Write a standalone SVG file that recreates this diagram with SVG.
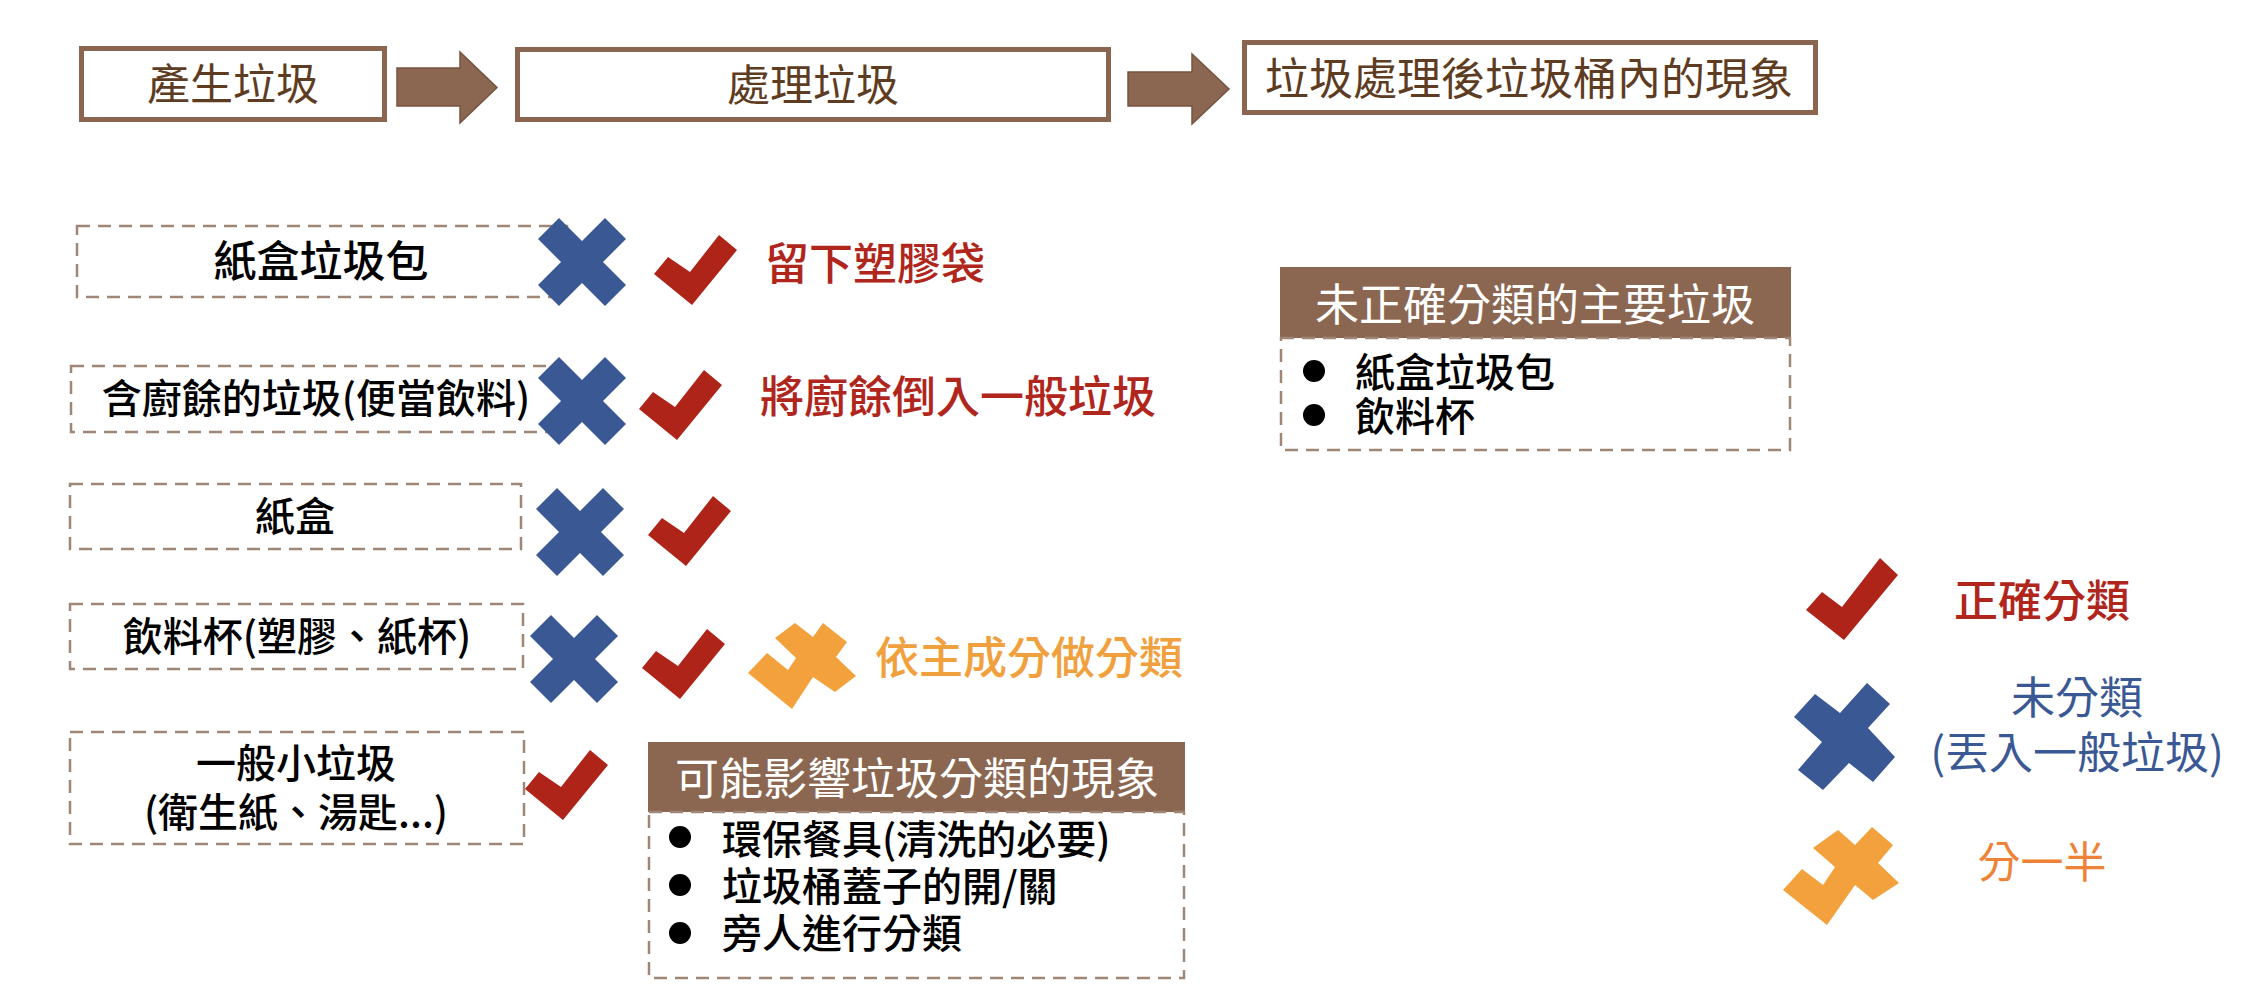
<svg xmlns="http://www.w3.org/2000/svg" width="2242" height="1008" viewBox="0 0 2242 1008">
<defs>
<style>
.t{font-family:"Noto Sans CJK TC","Noto Sans CJK SC",sans-serif}
.hdr{fill:#fff;stroke:#8A6650;stroke-width:5}
.arrow{fill:#8B6650;stroke:#765440;stroke-width:1.5}
.dash{fill:none;stroke:#A08676;stroke-width:2.5;stroke-dasharray:13 8}
.htxt{fill:#5E3C22;text-anchor:middle;font-size:43px}
.blk{fill:#000;font-weight:500}
.mid{text-anchor:middle}
.red{fill:#B0251C;font-weight:500}
.blue{fill:#3A5893}
.org{fill:#F0A03C;font-weight:500}
.org2{fill:#EE8236}
.xm{fill:#3A5894}
.ck{fill:#AF2419}
.half{fill:#F2A13C}
.band{fill:#8B6751}
.wt{fill:#fff;text-anchor:middle;font-size:44px}
</style>
<path id="xmark" d="M0,-21 L23,-44 L44,-23 L21,0 L44,23 L23,44 L0,21 L-23,44 L-44,23 L-21,0 L-44,-23 L-23,-44 Z"/>
<path id="check" d="M0,0 L-38,-31 L-24,-48 L-2,-33 L27,-70 L45,-55 Z"/>
</defs>
<rect width="2242" height="1008" fill="#fff"/>

<g id="connectors">
<polygon class="arrow" points="397,68 460,68 460,52 497,87.5 460,123 460,106 397,106"/>
<polygon class="arrow" points="1128,72 1192,72 1192,54 1229,89 1192,124 1192,106 1128,106"/>
</g>

<g id="step-produce">
<rect class="hdr" x="81.5" y="48.5" width="303" height="71"/>
<text class="t htxt" x="233" y="99.5">產生垃圾</text>
</g>
<g id="step-process">
<rect class="hdr" x="517.5" y="49.5" width="591" height="70"/>
<text class="t htxt" x="813" y="100.5">處理垃圾</text>
</g>
<g id="step-result">
<rect class="hdr" x="1244.5" y="42.5" width="571" height="70"/>
<text class="t htxt" x="1529" y="94.5" style="font-size:44px">垃圾處理後垃圾桶內的現象</text>
</g>

<g id="row1">
<rect class="dash" x="77" y="226" width="490" height="71"/>
<text class="t blk mid" x="321" y="277" style="font-size:43px">紙盒垃圾包</text>
<use href="#xmark" class="xm" x="582" y="262"/>
<use href="#check" class="ck" x="692" y="305"/>
<text class="t red" x="765" y="280" style="font-size:44px">留下塑膠袋</text>
</g>

<g id="row2">
<rect class="dash" x="71" y="366" width="494" height="66"/>
<text class="t blk" x="316" y="413" text-anchor="middle" style="font-size:40px">含廚餘的垃圾(便當飲料)</text>
<use href="#xmark" class="xm" x="582" y="401"/>
<use href="#check" class="ck" x="677" y="440"/>
<text class="t red" x="760" y="413" style="font-size:44px">將廚餘倒入一般垃圾</text>
</g>

<g id="row3">
<rect class="dash" x="70" y="484" width="451" height="65"/>
<text class="t blk mid" x="295" y="531" style="font-size:40px">紙盒</text>
<use href="#xmark" class="xm" x="580" y="532"/>
<use href="#check" class="ck" x="686" y="566"/>
</g>

<g id="row4">
<rect class="dash" x="70" y="604" width="453" height="65"/>
<text class="t blk mid" x="297" y="651" style="font-size:40px">飲料杯(塑膠、紙杯)</text>
<use href="#xmark" class="xm" x="574" y="659"/>
<use href="#check" class="ck" x="680" y="699"/>
<polygon class="half" points="792,709 813,677 835,692 856,676 836,657 847,642 823,623 813,637 795,623 775,638 796,658 788,670 767,653 748,673"/>
<text class="t org" x="875" y="674" style="font-size:44px">依主成分做分類</text>
</g>

<g id="row5">
<rect class="dash" x="70" y="732" width="454" height="112"/>
<text class="t blk mid" style="font-size:40px"><tspan x="296" y="778">一般小垃圾</tspan><tspan x="296" y="827">(衛生紙、湯匙...)</tspan></text>
<use href="#check" class="ck" x="563" y="820"/>
</g>

<g id="box-main-unsorted">
<rect class="band" x="1280" y="267" width="511" height="71"/>
<rect class="dash" x="1281" y="338" width="509" height="112"/>
<text class="t wt" x="1535" y="321">未正確分類的主要垃圾</text>
<circle cx="1314" cy="371" r="11"/>
<circle cx="1314" cy="415" r="11"/>
<text class="t blk" style="font-size:40px"><tspan x="1355" y="387">紙盒垃圾包</tspan><tspan x="1355" y="431">飲料杯</tspan></text>
</g>

<g id="box-factors">
<rect class="band" x="648" y="742" width="537" height="70"/>
<rect class="dash" x="649" y="812" width="535" height="166"/>
<text class="t wt" x="917" y="795">可能影響垃圾分類的現象</text>
<circle cx="680" cy="837" r="11"/>
<circle cx="680" cy="885" r="11"/>
<circle cx="680" cy="933" r="11"/>
<text class="t blk" style="font-size:40px"><tspan x="722" y="854">環保餐具(清洗的必要)</tspan><tspan x="722" y="901">垃圾桶蓋子的開/關</tspan><tspan x="722" y="948">旁人進行分類</tspan></text>
</g>

<g id="legend-correct">
<path class="ck" d="M1844,640 L1806,610 L1822,592 L1842,607 L1880,558 L1898,575 Z"/>
<text class="t red mid" x="2042" y="617" style="font-size:44px">正確分類</text>
</g>
<g id="legend-unsorted">
<polygon class="xm" points="1794,717 1815,694 1840,713 1867,683 1890,704 1868,728 1895,757 1873,782 1849,763 1823,790 1798,770 1822,742"/>
<text class="t blue mid" x="2077" y="714" style="font-size:44px">未分類</text>
<text class="t blue mid" x="2077" y="769" style="font-size:44px">(丟入一般垃圾)</text>
</g>
<g id="legend-half">
<polygon class="half" points="1827,925 1855,885 1873,900 1899,883 1878,863 1893,845 1872,827 1855,845 1838,830 1813,848 1835,867 1823,885 1802,869 1783,890"/>
<text class="t org2 mid" x="2042" y="878" style="font-size:43px">分一半</text>
</g>
</svg>
